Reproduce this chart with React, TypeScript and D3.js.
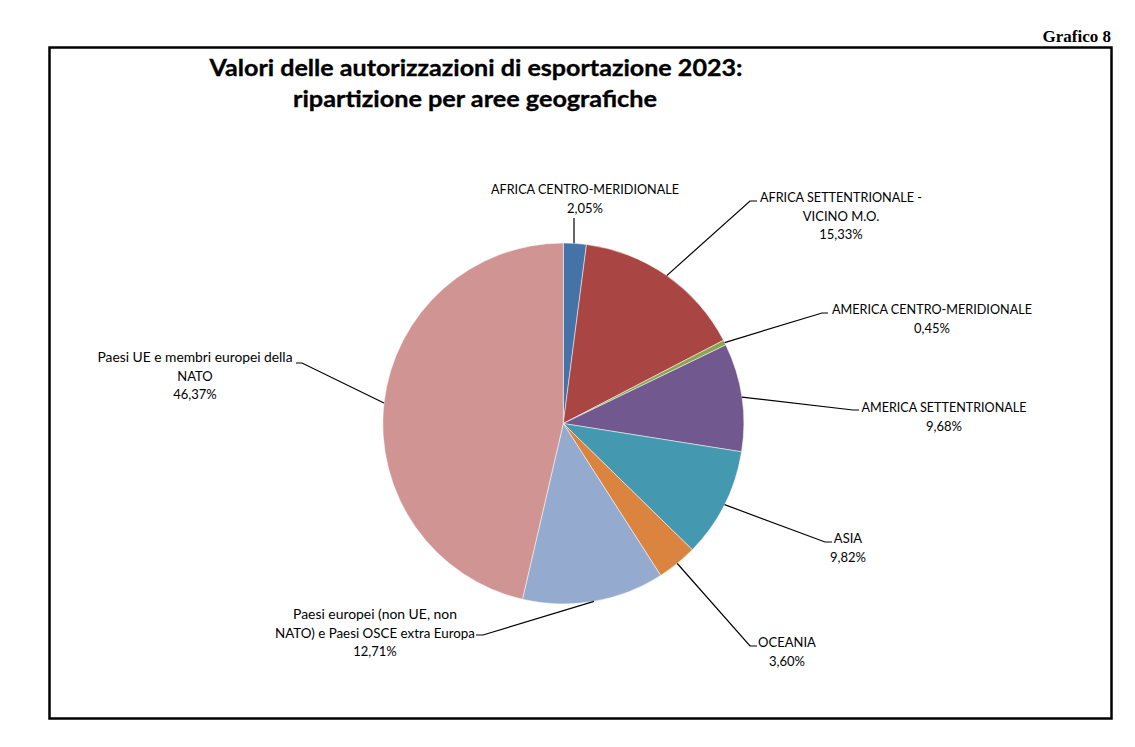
import React from "react";
import * as d3 from "d3";

const categories = [
  "AFRICA CENTRO-MERIDIONALE",
  "AFRICA SETTENTRIONALE - VICINO M.O.",
  "AMERICA CENTRO-MERIDIONALE",
  "AMERICA SETTENTRIONALE",
  "ASIA",
  "OCEANIA",
  "Paesi europei (non UE, non NATO) e Paesi OSCE extra Europa",
  "Paesi UE e membri europei della NATO",
];
const values = [2.05, 15.33, 0.45, 9.68, 9.82, 3.6, 12.71, 46.37];
const valueLabels = ["2,05%", "15,33%", "0,45%", "9,68%", "9,82%", "3,60%", "12,71%", "46,37%"];
const labelLines = [
  ["AFRICA CENTRO-MERIDIONALE"],
  ["AFRICA SETTENTRIONALE -", "VICINO M.O."],
  ["AMERICA CENTRO-MERIDIONALE"],
  ["AMERICA SETTENTRIONALE"],
  ["ASIA"],
  ["OCEANIA"],
  ["Paesi europei (non UE, non", "NATO) e Paesi OSCE extra Europa"],
  ["Paesi UE e membri europei della", "NATO"],
];
const colors = ["#4673A7", "#A94644", "#89A54E", "#71598F", "#4498AF", "#DA843F", "#95AACF", "#D09492"];

// layout: label text centre, first baseline, leader end, tick, widths of long lines
const labelLayout = [
  { cx: 585, y: 194, ex: 574, ey: 218, tick: 0, side: "v", widths: [188] },
  { cx: 841, y: 202, ex: 750, ey: 201, tick: 7, side: "r", widths: [162] },
  { cx: 932, y: 314, ex: 822, ey: 313, tick: 6, side: "r", widths: [200] },
  { cx: 944, y: 412, ex: 853, ey: 410, tick: 6, side: "r", widths: [165] },
  { cx: 848, y: 543, ex: 825, ey: 542, tick: 7, side: "r", widths: [] },
  { cx: 787, y: 647, ex: 750, ey: 646, tick: 7, side: "r", widths: [] },
  { cx: 375, y: 619, ex: 483, ey: 635, tick: -7, side: "l", widths: [164, 200] },
  { cx: 195, y: 362, ex: 302, ey: 363, tick: -6, side: "l", widths: [195] },
];

const W = 1135;
const H = 747;
const cx = 563.3;
const cy = 423.5;
const R = 180.5;
const lineH = 18.5;
const labelFont = "Lato, 'Open Sans', sans-serif";

export default function App() {
  const pie = d3.pie<number>().value((d) => d).sort(null);
  const arcs = pie(values);
  const arcGen = d3.arc<d3.PieArcDatum<number>>().innerRadius(0).outerRadius(R);

  return (
    <svg
      width={W}
      height={H}
      style={{ position: "absolute", left: 0, top: 0, background: "#fff" }}
      xmlns="http://www.w3.org/2000/svg"
    >
      <rect x={0} y={0} width={W} height={H} fill="#fff" />
      <text
        x={1111}
        y={42}
        textAnchor="end"
        fontFamily="'Liberation Serif', 'Times New Roman', serif"
        fontWeight="bold"
        fontSize={17}
        fill="#000"
      >
        Grafico 8
      </text>
      <rect x={49.5} y={47.5} width={1062} height={671} fill="none" stroke="#000" strokeWidth={2.5} />

      <g
        fontFamily={labelFont}
        fontWeight="bold"
        fontSize={23}
        fill="#000"
        stroke="#000"
        strokeWidth={0.35}
        textAnchor="middle"
      >
        <text x={476} y={76} textLength={533} lengthAdjust="spacingAndGlyphs">
          Valori delle autorizzazioni di esportazione 2023:
        </text>
        <text x={475} y={107} textLength={364} lengthAdjust="spacingAndGlyphs">
          ripartizione per aree geografiche
        </text>
      </g>

      <g transform={`translate(${cx},${cy})`}>
        {arcs.map((a, i) => (
          <path key={categories[i]} d={arcGen(a) || ""} fill={colors[i]} stroke="#fff" strokeWidth={0.5} />
        ))}
      </g>

      {arcs.map((a, i) => {
        const mid = (a.startAngle + a.endAngle) / 2;
        const sx = cx + R * Math.sin(mid);
        const sy = cy - R * Math.cos(mid);
        const L = labelLayout[i];
        const pts =
          L.side === "v"
            ? `${L.ex},${sy} ${L.ex},${L.ey}`
            : `${sx},${sy} ${L.ex},${L.ey} ${L.ex + L.tick},${L.ey}`;
        return <polyline key={"l" + i} points={pts} fill="none" stroke="#000" strokeWidth={1.2} />;
      })}

      <g fontFamily={labelFont} fontSize={13} fill="#000" textAnchor="middle">
        {labelLayout.map((L, i) => {
          const lines = [...labelLines[i], valueLabels[i]];
          return (
            <text key={"t" + i}>
              {lines.map((ln, j) => {
                const w = L.widths[j];
                return (
                  <tspan
                    key={j}
                    x={L.cx}
                    y={L.y + j * lineH}
                    {...(w ? { textLength: w, lengthAdjust: "spacingAndGlyphs" } : {})}
                  >
                    {ln}
                  </tspan>
                );
              })}
            </text>
          );
        })}
      </g>
    </svg>
  );
}
